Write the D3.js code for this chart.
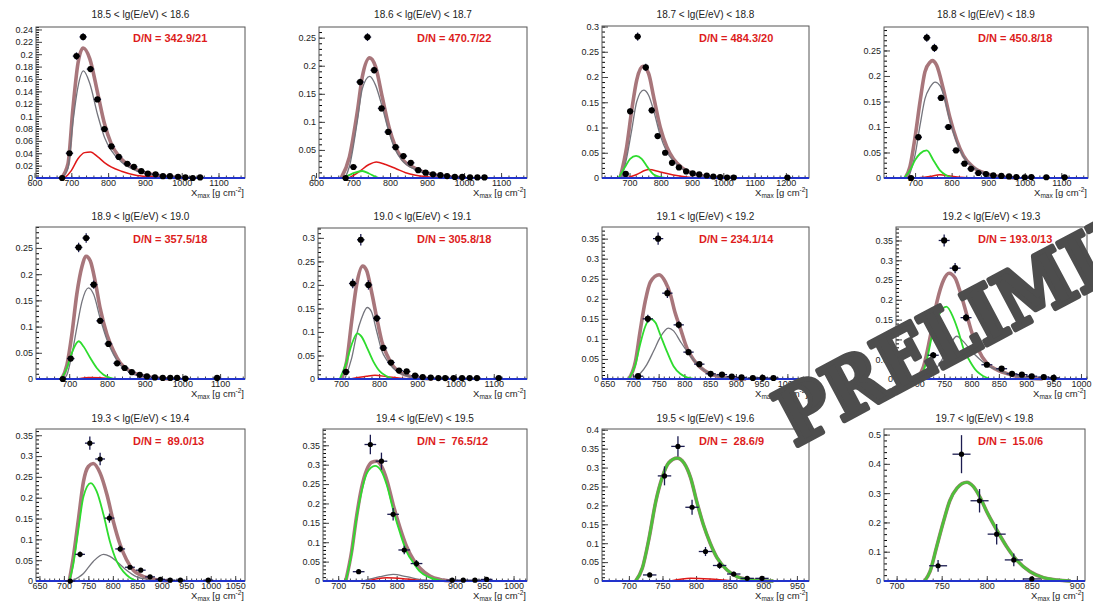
<!DOCTYPE html>
<html><head><meta charset="utf-8">
<script src="https://cdn.jsdelivr.net/npm/d3@7"></script>
<style>
html,body{margin:0;padding:0;background:#fff;}
svg{display:block;font-family:"Liberation Sans",Arial,Helvetica,sans-serif;}
</style></head><body>
<svg id="chart" width="1093" height="601"></svg>
<script>
// ---- energy bins and fit quality ----
const panelTitles = [
  "18.5 < lg(E/eV) < 18.6","18.6 < lg(E/eV) < 18.7","18.7 < lg(E/eV) < 18.8","18.8 < lg(E/eV) < 18.9",
  "18.9 < lg(E/eV) < 19.0","19.0 < lg(E/eV) < 19.1","19.1 < lg(E/eV) < 19.2","19.2 < lg(E/eV) < 19.3",
  "19.3 < lg(E/eV) < 19.4","19.4 < lg(E/eV) < 19.5","19.5 < lg(E/eV) < 19.6","19.7 < lg(E/eV) < 19.8"];
const dnLabels = ["D/N = 342.9/21","D/N = 470.7/22","D/N = 484.3/20","D/N = 450.8/18",
  "D/N = 357.5/18","D/N = 305.8/18","D/N = 234.1/14","D/N = 193.0/13",
  "D/N =  89.0/13","D/N =  76.5/12","D/N =  28.6/9","D/N =  15.0/6"];

// ---- axis ranges and ticks ----
const xDomains = [[604,1172],[608,1170],[612,1274],[615,1173],[612,1166],[640,1187],
  [640,1042],[662,1011],[643,1070],[674,1023],[660,968],[686,909]];
const yMaxima = [0.244,0.269,0.301,0.296,0.290,0.321,0.379,0.384,0.365,0.392,0.402,0.519];
const xTickLabels = [
  [600,700,800,900,1000,1100],[600,700,800,900,1000,1100],[700,800,900,1000,1100,1200],
  [700,800,900,1000,1100],[700,800,900,1000,1100],[700,800,900,1000,1100],
  [650,700,750,800,850,900,950,1000],[700,750,800,850,900,950,1000],
  [650,700,750,800,850,900,950,1000,1050],[700,750,800,850,900,950,1000],
  [700,750,800,850,900,950],[700,750,800,850,900]];
const xMinorStep = [20,20,20,20,20,20,10,10,10,10,10,10];
const yTickLabels = [
  [0,0.02,0.04,0.06,0.08,0.1,0.12,0.14,0.16,0.18,0.2,0.22,0.24],
  [0,0.05,0.1,0.15,0.2,0.25],[0,0.05,0.1,0.15,0.2,0.25,0.3],[0,0.05,0.1,0.15,0.2,0.25],
  [0,0.05,0.1,0.15,0.2,0.25],[0,0.05,0.1,0.15,0.2,0.25,0.3],[0,0.05,0.1,0.15,0.2,0.25,0.3,0.35],
  [0,0.05,0.1,0.15,0.2,0.25,0.3,0.35],[0,0.05,0.1,0.15,0.2,0.25,0.3,0.35],
  [0,0.05,0.1,0.15,0.2,0.25,0.3,0.35],[0,0.05,0.1,0.15,0.2,0.25,0.3,0.35,0.4],
  [0,0.1,0.2,0.3,0.4,0.5]];
const yMinorStep = [0.004,0.01,0.01,0.01,0.01,0.01,0.01,0.01,0.01,0.01,0.01,0.02];

// ---- measured Xmax distributions (bin centre, fraction, vertical error) ----
const dataX = [
  [675,695,714,732,752,771,790,809,829,852,870,890,908,929,949,968,990,1010,1030,1050],
  [680,701,719,739,757,777,795,815,836,856,876,896,916,936,954,975,995,1016,1036,1055],
  [688,702,726,752,771,790,814,836,858,881,902,923,947,968,990,1012,1033,1205],
  [689,709,732,753,771,791,812,835,853,873,894,914,936,957,977,1000,1018,1059,1109],
  [683,704,725,745,765,782,804,827,847,866,887,906,927,948,968,986,1008,1092],
  [713,731,752,772,794,811,831,852,872,894,914,935,955,973,995,1017,1037,1056,1113],
  [710,729,749,767,789,808,829,851,873,892,911,933,952,973],
  [710,730,750,770,790,810,828,855,874,892,910,932,950],
  [713,733,753,774,793,815,835,857,876,897,917,938,995],
  [735,755,774,794,813,834,895,914,934,954],
  [731,753,773,794,814,835,856,876,898],
  [746,772,792,811,830,850]];
const dataY = [
  [0,0.040,0.197,0.228,0.176,0.127,0.079,0.051,0.034,0.023,0.018,0.011,0.007,0.006,0.003,0.003,0.002,0.001,0,0.001],
  [0,0.0196,0.171,0.251,0.192,0.124,0.082,0.055,0.039,0.027,0.014,0.0095,0.0065,0.005,0.0035,0.002,0.002,0.001,0.001,0.001],
  [0.008,0.132,0.280,0.219,0.134,0.083,0.050,0.030,0.021,0.013,0.009,0.007,0.005,0.003,0.002,0.001,0.001,0.001],
  [0,0.080,0.275,0.255,0.157,0.100,0.054,0.028,0.018,0.0098,0.0078,0.005,0.004,0.003,0.002,0.0015,0.002,0.0015,0.0015],
  [0,0.039,0.251,0.269,0.180,0.111,0.067,0.030,0.021,0.013,0.008,0.005,0.003,0.002,0.002,0.002,0.001,0.002],
  [0.015,0.203,0.296,0.200,0.129,0.066,0.035,0.018,0.016,0.007,0.004,0.003,0.002,0.002,0.002,0.002,0.002,0.002,0.002],
  [0.007,0.150,0.350,0.214,0.135,0.067,0.037,0.013,0.011,0.006,0.004,0.0025,0.003,0.0025],
  [0.005,0.060,0.350,0.280,0.155,0.080,0.036,0.026,0.013,0.011,0.007,0.005,0.003],
  [0,0.064,0.331,0.293,0.151,0.077,0.033,0.026,0.010,0.004,0.002,0.002,0.002],
  [0.024,0.352,0.309,0.172,0.080,0.045,0.002,0.002,0.002,0.004],
  [0.016,0.278,0.356,0.195,0.078,0.041,0.0185,0.007,0.007],
  [0.052,0.433,0.274,0.160,0.072,0.007]];
const dataErr = [
  [0,0.003,0.006,0.006,0.005,0.004,0.003,0.003,0.002,0.002,0.002,0.001,0.001,0.001,0.001,0.001,0.001,0.001,0,0.001],
  [0,0.003,0.006,0.007,0.006,0.005,0.004,0.003,0.003,0.002,0.002,0.001,0.001,0.001,0.001,0.001,0.001,0.001,0.001,0.001],
  [0.002,0.006,0.008,0.007,0.006,0.005,0.004,0.003,0.003,0.002,0.002,0.001,0.001,0.001,0.001,0.001,0.001,0.001],
  [0,0.006,0.008,0.008,0.006,0.005,0.004,0.003,0.002,0.002,0.002,0.001,0.001,0.001,0.001,0.001,0.001,0.001,0.001],
  [0,0.005,0.009,0.009,0.008,0.006,0.005,0.003,0.003,0.002,0.002,0.002,0.001,0.001,0.001,0.001,0.001,0.001],
  [0.003,0.010,0.012,0.010,0.008,0.006,0.004,0.003,0.003,0.002,0.002,0.001,0.001,0.001,0.001,0.001,0.001,0.001,0.001],
  [0.002,0.010,0.015,0.012,0.009,0.007,0.005,0.003,0.003,0.002,0.002,0.001,0.002,0.001],
  [0.002,0.008,0.015,0.013,0.010,0.008,0.005,0.004,0.003,0.003,0.002,0.002,0.002],
  [0,0.007,0.016,0.015,0.011,0.008,0.005,0.005,0.003,0.002,0.002,0.002,0.002],
  [0.005,0.025,0.022,0.016,0.011,0.009,0.002,0.002,0.002,0.003],
  [0.006,0.025,0.027,0.020,0.012,0.009,0.006,0.003,0.003],
  [0.020,0.065,0.040,0.035,0.022,0.005]];

// ---- fitted composition model: [Xmax, fraction] samples of each curve ----
const totalCurve = [
  [[673,0],[691,0.023],[704,0.11],[718,0.185],[732,0.210],[750,0.193],[772,0.136],[790,0.088],[808,0.056],[831,0.034],[872,0.015],[917,0.006],[962,0.002],[1008,0]],
  [[668,0],[690,0.037],[712,0.12],[725,0.18],[745,0.214],[761,0.198],[779,0.144],[797,0.091],[815,0.055],[833,0.034],[869,0.017],[914,0.0065],[959,0.002],[1000,0]],
  [[670,0],[691,0.062],[707,0.134],[723,0.194],[743,0.221],[761,0.207],[777,0.161],[798,0.101],[819,0.062],[840,0.038],[872,0.0185],[904,0.0086],[957,0.002],[1000,0]],
  [[673,0],[686,0.022],[700,0.080],[714,0.152],[727,0.208],[741,0.227],[747,0.230],[759,0.221],[777,0.175],[795,0.119],[814,0.074],[832,0.044],[859,0.0215],[895,0.0085],[941,0.002],[977,0]],
  [[680,0],[694,0.027],[707,0.085],[720,0.161],[734,0.215],[745,0.234],[756,0.225],[769,0.186],[782,0.135],[800,0.085],[818,0.053],[835,0.031],[862,0.0146],[888,0.007],[933,0.002],[970,0]],
  [[702,0],[715,0.037],[728,0.122],[741,0.2],[757,0.240],[767,0.231],[780,0.186],[794,0.129],[807,0.080],[820,0.052],[837,0.027],[855,0.014],[881,0.0056],[907,0.002],[940,0]],
  [[692,0],[705,0.044],[714,0.119],[724,0.194],[734,0.242],[751,0.260],[763,0.242],[773,0.210],[782,0.165],[792,0.127],[805,0.077],[818,0.048],[831,0.029],[850,0.013],[869,0.006],[895,0.001],[920,0]],
  [[700,0],[712,0.03],[724,0.103],[737,0.196],[749,0.25],[759,0.267],[770,0.255],[779,0.221],[788,0.179],[800,0.12],[812,0.075],[828,0.04],[846,0.0235],[871,0.011],[895,0.004],[930,0]],
  [[711,0],[719,0.055],[730,0.151],[740,0.239],[750,0.275],[760,0.282],[774,0.259],[788,0.207],[801,0.143],[815,0.087],[828,0.051],[842,0.026],[856,0.0144],[876,0.0064],[897,0.0016],[920,0]],
  [[713,0],[723,0.076],[731,0.162],[740,0.240],[749,0.287],[757,0.306],[766,0.309],[774,0.296],[783,0.261],[794,0.197],[806,0.136],[817,0.089],[829,0.054],[840,0.033],[857,0.013],[874,0.004],[895,0]],
  [[710,0],[720,0.034],[730,0.113],[740,0.210],[750,0.276],[759,0.312],[772,0.325],[782,0.312],[792,0.272],[801,0.210],[811,0.148],[821,0.100],[831,0.062],[846,0.029],[861,0.0115],[876,0.0044],[896,0.001],[915,0]],
  [[731,0],[737,0.032],[744,0.112],[752,0.203],[759,0.274],[767,0.317],[778,0.337],[785,0.323],[793,0.283],[800,0.237],[811,0.175],[822,0.118],[833,0.072],[848,0.032],[863,0.0114],[878,0.0034],[893,0]]];
const grayCurve = [
  [[673,0],[691,0.016],[704,0.088],[718,0.147],[733,0.173],[750,0.153],[772,0.101],[790,0.066],[808,0.045],[836,0.026],[872,0.013],[917,0.006],[962,0.002],[1008,0]],
  [[678,0],[690,0.02],[712,0.103],[725,0.159],[745,0.181],[761,0.165],[779,0.126],[797,0.082],[815,0.049],[833,0.031],[869,0.015],[914,0.006],[959,0.002],[1000,0]],
  [[675,0],[691,0.04],[707,0.095],[723,0.151],[745,0.174],[761,0.164],[777,0.134],[798,0.085],[819,0.052],[840,0.034],[872,0.017],[904,0.008],[957,0.002],[1000,0]],
  [[682,0],[700,0.045],[714,0.105],[727,0.155],[741,0.178],[755,0.188],[768,0.181],[777,0.165],[795,0.113],[814,0.070],[832,0.042],[859,0.0215],[895,0.0085],[941,0.002],[977,0]],
  [[685,0],[694,0.008],[707,0.046],[720,0.097],[734,0.148],[751,0.174],[765,0.161],[782,0.116],[800,0.075],[818,0.046],[835,0.027],[862,0.013],[888,0.006],[933,0.002],[970,0]],
  [[710,0],[728,0.044],[741,0.094],[754,0.129],[769,0.152],[780,0.143],[794,0.10],[807,0.06],[820,0.04],[837,0.023],[855,0.0127],[881,0.005],[907,0.002],[940,0]],
  [[698,0],[715,0.015],[727,0.036],[740,0.069],[753,0.104],[769,0.127],[779,0.12],[792,0.094],[805,0.069],[818,0.047],[831,0.029],[850,0.013],[869,0.006],[895,0.001],[920,0]],
  [[715,0],[735,0.025],[755,0.07],[773,0.108],[785,0.095],[800,0.07],[815,0.05],[828,0.035],[846,0.0235],[871,0.011],[895,0.004],[930,0]],
  [[716,0],[740,0.018],[760,0.047],[781,0.064],[794,0.059],[808,0.047],[828,0.026],[849,0.010],[869,0.004],[900,0]],
  [[743,0],[771,0.011],[794,0.017],[817,0.011],[846,0.0026],[870,0]],
  [], []];
const redCurve = [
  [[682,0],[700,0.012],[718,0.031],[736,0.041],[752,0.042],[772,0.034],[790,0.025],[808,0.018],[836,0.011],[872,0.005],[917,0.002],[960,0]],
  [[689,0],[716,0.011],[743,0.024],[763,0.0285],[788,0.024],[815,0.017],[842,0.0095],[869,0.005],[905,0.002],[940,0]],
  [[691,0],[723,0.007],[761,0.0166],[798,0.012],[840,0.006],[883,0.002],[920,0]],
  [[705,0],[741,0.003],[768,0.0065],[795,0.004],[823,0.0013],[850,0]],
  [[720,0],[751,0.003],[782,0.0025],[820,0]],
  [[724,0],[767,0.006],[789,0.0078],[820,0.005],[855,0.0015],[880,0]],
  [], [],
  [],
  [[749,0],[783,0.0086],[817,0.005],[846,0]],
  [[762,0],[792,0.007],[821,0.005],[855,0]],
  []];
const greenCurve = [
  [],
  [[671,0],[689,0.005],[703,0.009],[725,0.0125],[743,0.008],[761,0.002],[770,0]],
  [[665,0],[686,0.022],[702,0.038],[721,0.0437],[739,0.038],[757,0.022],[777,0.007],[798,0.002],[814,0]],
  [[670,0],[686,0.015],[700,0.035],[714,0.048],[732,0.054],[750,0.035],[768,0.015],[786,0.005],[805,0]],
  [[679,0],[694,0.021],[707,0.05],[725,0.072],[738,0.062],[756,0.04],[773,0.021],[791,0.008],[809,0.002],[820,0]],
  [[697,0],[715,0.037],[728,0.073],[743,0.097],[754,0.090],[767,0.069],[785,0.037],[802,0.016],[820,0.006],[837,0]],
  [[692,0],[705,0.036],[714,0.086],[724,0.131],[734,0.150],[744,0.14],[753,0.111],[766,0.069],[779,0.032],[792,0.013],[805,0.004],[818,0]],
  [[705,0],[717,0.04],[728,0.11],[737,0.15],[754,0.183],[767,0.154],[776,0.12],[785,0.078],[797,0.045],[810,0.019],[822,0.007],[834,0]],
  [[711,0],[719,0.039],[730,0.127],[740,0.203],[755,0.235],[767,0.215],[781,0.159],[794,0.095],[808,0.047],[822,0.022],[835,0.008],[849,0]],
  [[713,0],[723,0.072],[731,0.158],[740,0.231],[749,0.278],[763,0.297],[774,0.283],[783,0.248],[794,0.184],[806,0.123],[817,0.076],[829,0.046],[840,0.024],[857,0.0086],[874,0.0017],[890,0]],
  null, null];
// in the two highest bins the light component carries the whole fit
greenCurve[10] = totalCurve[10];
greenCurve[11] = totalCurve[11];
// heavy component stays at zero over the whole range
const blueCurve = [[500,0],[1400,0]];

// ---- layout: frame box of each pad [left, top, right, bottom] ----
const frames = [
  [36,27,245,178],[319,27,527,178],[602,26,809,178],[884,27,1088,178],
  [36,227,245,379],[318,228,527,379],[602,227,809,379],[896,227,1087,379],
  [36,429,245,581],[323,429,527,581],[602,429,809,581],[884,429,1085,581]];
const dnX = [133,417,699,978];
const titleY = [17.5,219.5,421.5];
const dnY = [41.5,243,444.5];

const svg = d3.select("#chart");
const defs = svg.append("defs");
const fmt = v => String(+v.toFixed(3));

function drawPanel(i) {
  const [L, T, R, B] = frames[i];
  const row = Math.floor(i / 4), col = i % 4;
  const x = d3.scaleLinear().domain(xDomains[i]).range([L, R]);
  const y = d3.scaleLinear().domain([0, yMaxima[i]]).range([B, T]);
  const g = svg.append("g");
  const clipId = "frame-clip-" + i;
  defs.append("clipPath").attr("id", clipId).append("rect")
    .attr("x", L).attr("y", T).attr("width", R - L).attr("height", B - T + 2);

  // title
  g.append("text").attr("x", (L + R) / 2).attr("y", titleY[row])
    .attr("text-anchor", "middle").attr("font-size", 10).attr("fill", "#222")
    .text(panelTitles[i]);

  // y axis: ticks inside the frame, labels outside
  const [d0, d1] = xDomains[i];
  const yMinor = d3.range(0, yMaxima[i] + 1e-9, yMinorStep[i]);
  g.append("g").attr("transform", `translate(${L},0)`)
    .call(d3.axisLeft(y).tickValues(yMinor).tickSizeInner(-3).tickSizeOuter(0).tickFormat(""))
    .call(a => a.select(".domain").remove());
  const ya = g.append("g").attr("transform", `translate(${L},0)`)
    .call(d3.axisLeft(y).tickValues(yTickLabels[i]).tickSizeInner(-6).tickSizeOuter(0).tickPadding(3).tickFormat(fmt));
  ya.select(".domain").remove();
  ya.selectAll("text").attr("font-size", 9).attr("font-family", "Liberation Sans, Arial, sans-serif").attr("fill", "#222");
  ya.selectAll("line").attr("stroke", "#444");

  // x axis
  const xMinor = d3.range(Math.ceil(d0 / xMinorStep[i]) * xMinorStep[i], d1, xMinorStep[i]);
  g.append("g").attr("transform", `translate(0,${B})`)
    .call(d3.axisBottom(x).tickValues(xMinor).tickSizeInner(-2.5).tickSizeOuter(0).tickFormat(""))
    .call(a => a.select(".domain").remove())
    .selectAll("line").attr("stroke", "#444");
  const xa = g.append("g").attr("transform", `translate(0,${B})`)
    .call(d3.axisBottom(x).tickValues(xTickLabels[i]).tickSizeInner(-5).tickSizeOuter(0).tickPadding(2).tickFormat(fmt));
  xa.select(".domain").remove();
  xa.selectAll("text").attr("font-size", 9).attr("font-family", "Liberation Sans, Arial, sans-serif").attr("fill", "#222");
  xa.selectAll("line").attr("stroke", "#444");

  // x axis title
  const t = g.append("text").attr("x", R - 1).attr("y", B + 17.5)
    .attr("text-anchor", "end").attr("font-size", 9.5).attr("fill", "#222");
  t.append("tspan").text("X");
  t.append("tspan").attr("dy", 2).attr("font-size", 6.5).text("max");
  t.append("tspan").attr("dy", -2).text(" [g cm");
  t.append("tspan").attr("dy", -3.5).attr("font-size", 6.5).text("-2");
  t.append("tspan").attr("dy", 3.5).text("]");

  // frame
  g.append("rect").attr("x", L).attr("y", T).attr("width", R - L).attr("height", B - T)
    .attr("fill", "none").attr("stroke", "#555").attr("stroke-width", 1);

  // fit curves
  const line = d3.line().x(d => x(d[0])).y(d => y(d[1])).curve(d3.curveMonotoneX);
  const curves = g.append("g").attr("clip-path", `url(#${clipId})`).attr("fill", "none");
  const heavy = i >= 10;
  curves.append("path").attr("d", line(totalCurve[i])).attr("stroke", "#a8767b").attr("stroke-width", 3.6).attr("stroke-linejoin", "round");
  if (grayCurve[i].length) curves.append("path").attr("d", line(grayCurve[i])).attr("stroke", "#74747c").attr("stroke-width", 1.3);
  if (redCurve[i].length) curves.append("path").attr("d", line(redCurve[i])).attr("stroke", "#e01818").attr("stroke-width", 1.5);
  if (greenCurve[i].length) curves.append("path").attr("d", line(greenCurve[i]))
    .attr("stroke", heavy ? "#4fbf3a" : "#2edc2e").attr("stroke-width", heavy ? 2.8 : 1.8);
  curves.append("path").attr("d", line(blueCurve)).attr("stroke", "#2233cc").attr("stroke-width", 2.2);

  // data points with error bars
  const pts = g.append("g");
  const r = i >= 8 ? 2.6 : 3.1;
  dataX[i].forEach((xv, k) => {
    const yv = dataY[i][k], e = dataErr[i][k];
    pts.append("line").attr("x1", x(xv - 10)).attr("x2", x(xv + 10)).attr("y1", y(yv)).attr("y2", y(yv))
      .attr("stroke", "#1c1c50").attr("stroke-width", 1.3);
    if (e > 0) pts.append("line").attr("x1", x(xv)).attr("x2", x(xv)).attr("y1", y(yv - e)).attr("y2", y(yv + e))
      .attr("stroke", "#1c1c50").attr("stroke-width", 1.3);
    pts.append("circle").attr("cx", x(xv)).attr("cy", y(yv)).attr("r", r).attr("fill", "#000");
  });

  // fit quality
  g.append("text").attr("x", dnX[col]).attr("y", dnY[row]).attr("font-size", 11).attr("font-weight", "bold")
    .attr("fill", "#dd1c1c").style("white-space", "pre").text(dnLabels[i]);
}

d3.range(12).forEach(drawPanel);

// preliminary stamp
svg.append("text").attr("transform", "translate(795,447) rotate(-28)")
  .attr("font-family", "DejaVu Serif Condensed, DejaVu Serif, serif").attr("font-weight", "bold")
  .attr("font-stretch", "condensed").attr("letter-spacing", 0)
  .attr("font-size", 78).attr("fill", "#4d4d4d").attr("stroke", "#4d4d4d").attr("stroke-width", 5)
  .attr("stroke-linejoin", "round").text("PRELIMINARY");
</script></body></html>
